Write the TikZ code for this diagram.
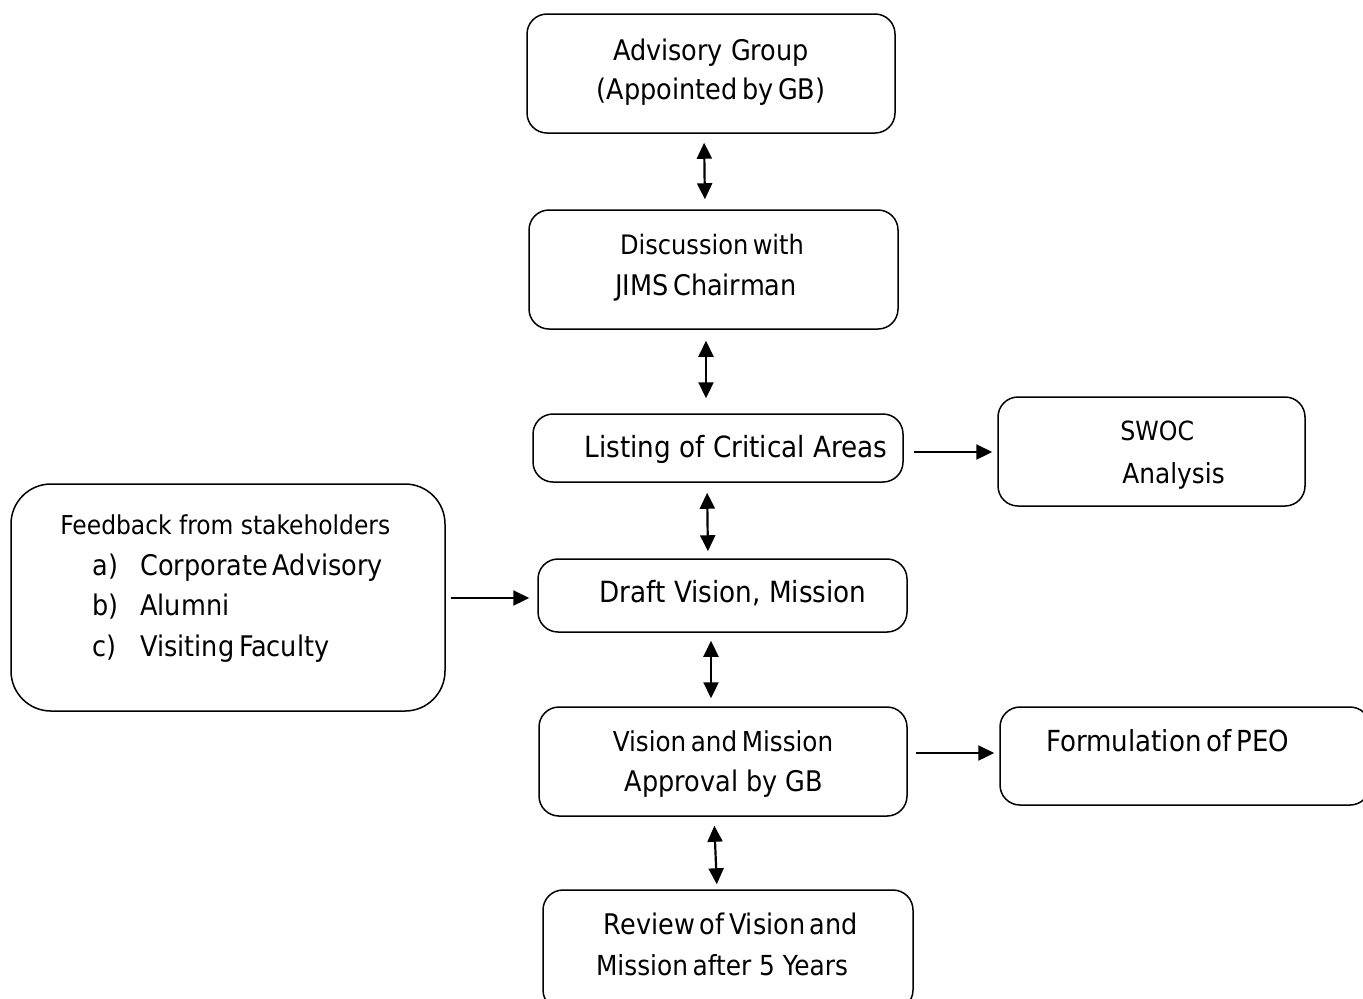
\documentclass[tikz,border=0pt]{standalone}
\usepackage{fontspec}
\setmainfont{DejaVu Sans Condensed}
\usetikzlibrary{arrows.meta}
\newcommand{\fs}[1]{\fontsize{#1}{#1}\selectfont}
\tikzset{
  box/.style={draw, line width=0.75pt, rounded corners=10pt, inner sep=0pt},
  lbl/.style={inner sep=0pt, anchor=base, font=\fs{14.2}},
  lbll/.style={lbl, anchor=base west},
  both/.style={line width=1.1pt, {Triangle[length=8pt,width=7.5pt]}-{Triangle[length=8pt,width=7.5pt]}},
  oneway/.style={line width=1.1pt, -{Triangle[length=8pt,width=7.5pt]}},
}
\begin{document}
\begin{tikzpicture}[x=0.5pt,y=-0.5pt]
\useasboundingbox (0,0) rectangle (1363,998);
% boxes
\node[box, minimum width=184pt, minimum height=59.5pt] (ag) at (711,73.5) {};
\node[box, minimum width=184.5pt, minimum height=59.5pt] (disc) at (713.5,269.5) {};
\node[box, minimum width=185pt, minimum height=34pt] (list) at (718,448) {};
\node[box, minimum width=153.5pt, minimum height=54.5pt] (swoc) at (1151.5,451.5) {};
\node[box, rounded corners=20pt, minimum width=217pt, minimum height=113.5pt] (fb) at (228,597.5) {};
\node[box, minimum width=184.5pt, minimum height=36.5pt] (draft) at (722.5,595.5) {};
\node[box, minimum width=184pt, minimum height=54.5pt] (appr) at (723,761.5) {};
\node[box, minimum width=185pt, minimum height=49pt] (peo) at (1185,756) {};
\node[box, minimum width=185pt, minimum height=60pt] (rev) at (728,950) {};
% texts
\node[lbl] (t1) at (711,60) {Advisory Group};
\node[lbl] (t2) at (711,99) {(Appointed\,by\,GB)};
\node[lbl, font=\fs{13.4}] (t3) at (712,254) {Discussion\,with};
\node[lbl] (t4) at (706,295) {JIMS\,Chairman};
\node[lbl, font=\fs{14.6}] (t5) at (736,457) {Listing of Critical Areas};
\node[lbll, font=\fs{13.2}] (t6) at (1120,440) {SWOC};
\node[lbll, font=\fs{13.8}] (t7) at (1122,483) {Analysis};
\node[lbll, font=\fs{13}] (t8) at (60,534) {Feedback from stakeholders};
\node[lbll] (t9a) at (92,575) {a)};
\node[lbll] (t9) at (140,575) {Corporate\,Advisory};
\node[lbll] (t10a) at (92,615) {b)};
\node[lbll] (t10) at (140,615) {Alumni};
\node[lbll] (t11a) at (92,656) {c)};
\node[lbll] (t11) at (140,656) {Visiting\,Faculty};
\node[lbl, font=\fs{14.6}] (t12) at (733,602) {Draft Vision, Mission};
\node[lbl, font=\fs{13.7}] (t13) at (723,751) {Vision\,and\,Mission};
\node[lbl] (t14) at (724,791) {Approval by GB};
\node[lbll, font=\fs{14.5}] (t15) at (1046,751) {Formulation\,of\,PEO};
\node[lbl] (t16) at (731,934) {Review\,of\,Vision\,and};
\node[lbl, font=\fs{13.8}] (t17) at (722,975) {Mission\,after 5 Years};
% connectors
\draw[both, shorten <=4.5pt, shorten >=5pt] ([xshift=-3.5pt]ag.south) -- ([xshift=-4.25pt]disc.north);
\draw[both, shorten <=5.5pt, shorten >=7.5pt] ([xshift=-3.75pt]disc.south) -- ([xshift=-6pt]list.north);
\draw[both, shorten <=5pt, shorten >=3.5pt] ([xshift=-5.5pt]list.south) -- ([xshift=-7.25pt]draft.north);
\draw[both, shorten <=4pt, shorten >=4pt] ([xshift=-5.75pt]draft.south) -- ([xshift=-6pt]appr.north);
\draw[both, shorten <=4.5pt, shorten >=2.5pt] ([xshift=-4.5pt]appr.south) -- ([xshift=-5.5pt]rev.north);
\draw[oneway, shorten <=5pt, shorten >=2.5pt] ([yshift=-2pt]list.east) -- ([yshift=-0.25pt]swoc.west);
\draw[oneway, shorten <=2.5pt, shorten >=4pt] ([yshift=-0.25pt]fb.east) -- ([yshift=-1.25pt]draft.west);
\draw[oneway, shorten <=4pt, shorten >=2.5pt] ([yshift=4.25pt]appr.east) -- ([yshift=1.5pt]peo.west);
\end{tikzpicture}
\end{document}
